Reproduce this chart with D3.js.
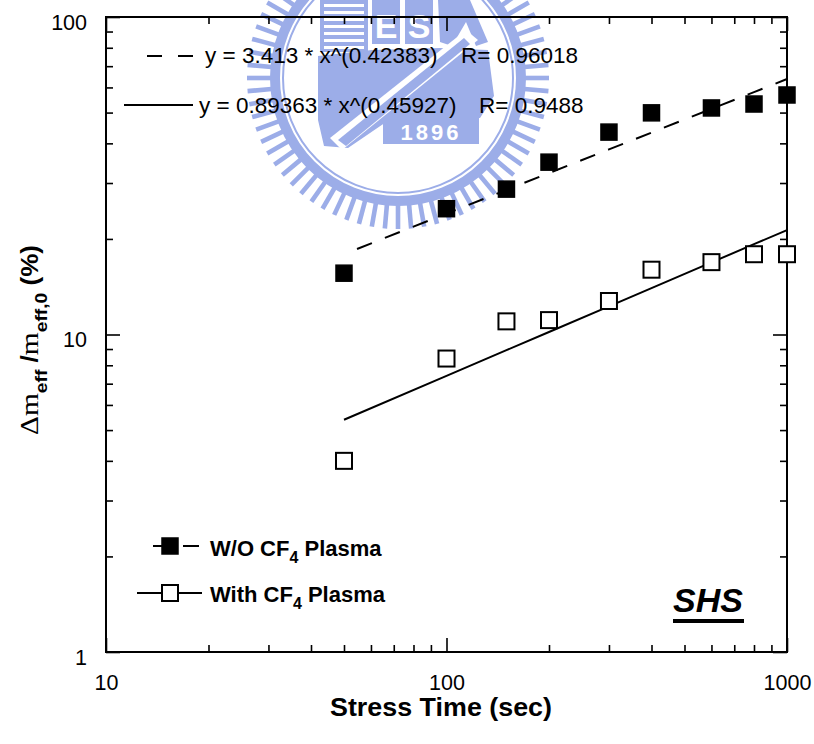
<!DOCTYPE html>
<html>
<head>
<meta charset="utf-8">
<script src="https://cdn.jsdelivr.net/npm/d3@7"></script>
<style>
  html, body { margin: 0; padding: 0; background: #fff; }
  svg { display: block; }
  text { font-family: Arial, "Liberation Sans", sans-serif; }
</style>
</head>
<body>
<svg id="chart" width="814" height="744"></svg>
<script>
// Stress time (s) at which the shift was measured
const stressTimes = [50, 100, 150, 200, 300, 400, 600, 800, 1000];
// Relative effective-mass shift (%) without CF4 plasma treatment
const shiftWithoutCF4 = [15.6, 24.9, 28.7, 34.9, 43.4, 49.9, 51.7, 53.2, 56.8];
// Relative effective-mass shift (%) with CF4 plasma treatment
const shiftWithCF4 = [4.0, 8.4, 11.0, 11.1, 12.75, 16.0, 16.9, 17.9, 17.9];
// Power-law fits y = A * x^B
const fitA = [3.413, 0.89363];
const fitB = [0.42383, 0.45927];
const fitR = ["0.96018", "0.9488"];
const xMajorTicks = [10, 100, 1000];
const yMajorTicks = [1, 10, 100];

const svg = d3.select("#chart");
const plotL = 106, plotR = 787, plotT = 17, plotB = 652;
const x = d3.scaleLog().domain([10, 1000]).range([plotL, plotR]);
const y = d3.scaleLog().domain([1, 100]).range([plotB, plotT]);

// ---- faded university emblem behind the plot ----
const wmColor = "#9cade8";
const wm = svg.append("g");
const cx = 398, cy = 78;
const teeth = d3.range(0, 360, 5);
wm.selectAll("rect.tooth").data(teeth).join("rect")
  .attr("class", "tooth")
  .attr("x", -2.3).attr("y", -151).attr("width", 4.6).attr("height", 24)
  .attr("fill", wmColor)
  .attr("transform", d => `translate(${cx},${cy}) rotate(${d})`);
wm.append("circle").attr("cx", cx).attr("cy", cy).attr("r", 121)
  .attr("fill", "none").attr("stroke", wmColor).attr("stroke-width", 14);
wm.append("circle").attr("cx", cx).attr("cy", cy).attr("r", 117)
  .attr("fill", "none").attr("stroke", "#fff").attr("stroke-width", 2);
// building block with stripes
wm.append("rect").attr("x", 320).attr("y", 0).attr("width", 48).attr("height", 52).attr("fill", wmColor);
d3.range(4, 50, 7).forEach(s => {
  wm.append("rect").attr("x", 324).attr("y", s).attr("width", 40).attr("height", 3).attr("fill", "#fff");
});
// letter boxes
[["E", 372], ["S", 405]].forEach(([ch, bx]) => {
  wm.append("rect").attr("x", bx).attr("y", 0).attr("width", 28).attr("height", 44).attr("fill", wmColor);
  wm.append("text").attr("x", bx + 14).attr("y", 38).attr("text-anchor", "middle")
    .attr("font-size", 34).attr("font-weight", "bold").attr("fill", "#fff").text(ch);
});
wm.append("path").attr("d", "M438,0 L470,0 L488,42 L476,46 L466,22 L452,46 L440,42 Z").attr("fill", wmColor);
// main body with a diagonal band
wm.append("path")
  .attr("d", "M318,56 L372,50 L440,48 L488,50 L494,96 L480,118 L392,118 L348,148 L324,146 L318,120 Z")
  .attr("fill", wmColor);
wm.append("path")
  .attr("d", "M330,138 L342,150 L478,40 L466,30 Z")
  .attr("fill", "#fff");
wm.append("path")
  .attr("d", "M338,140 L346,146 L470,44 L464,38 Z")
  .attr("fill", wmColor);
wm.append("rect").attr("x", 383).attr("y", 118).attr("width", 96).attr("height", 26).attr("fill", wmColor);
wm.append("text").attr("x", 431).attr("y", 140).attr("text-anchor", "middle")
  .attr("font-size", 22).attr("font-weight", "bold").attr("fill", "#fff")
  .attr("letter-spacing", 3).text("1896");

// ---- axes ----
const minorX = [];
[10, 100].forEach(d => { for (let k = 2; k <= 9; k++) minorX.push(d * k); });
const minorY = [];
[1, 10].forEach(d => { for (let k = 2; k <= 9; k++) minorY.push(d * k); });

function styleAxis(g) {
  g.select(".domain").remove();
  g.selectAll(".tick line").attr("stroke", "#000").attr("stroke-width", 1.6);
  g.selectAll(".tick text").attr("font-size", 21.5).attr("fill", "#000")
    .attr("font-family", 'Arial, "Liberation Sans", sans-serif');
}

svg.append("g").attr("transform", `translate(0,${plotB})`)
  .call(d3.axisBottom(x).tickValues(minorX).tickSize(-7).tickFormat(""))
  .call(styleAxis);
svg.append("g").attr("transform", `translate(0,${plotB})`)
  .call(d3.axisBottom(x).tickValues(xMajorTicks).tickSize(-14).tickPadding(23).tickFormat(d3.format("d")))
  .call(styleAxis);
svg.append("g").attr("transform", `translate(0,${plotT})`)
  .call(d3.axisTop(x).tickValues(minorX).tickSize(-7).tickFormat(""))
  .call(styleAxis);
svg.append("g").attr("transform", `translate(0,${plotT})`)
  .call(d3.axisTop(x).tickValues(xMajorTicks).tickSize(-14).tickFormat(""))
  .call(styleAxis);

svg.append("g").attr("transform", `translate(${plotL},0)`)
  .call(d3.axisLeft(y).tickValues(minorY).tickSize(-7).tickFormat(""))
  .call(styleAxis);
svg.append("g").attr("transform", `translate(${plotL},0)`)
  .call(d3.axisLeft(y).tickValues(yMajorTicks).tickSize(-14).tickPadding(19).tickFormat(d3.format("d")))
  .call(styleAxis)
  .call(g => g.selectAll(".tick text").attr("dy", "0.57em"));
svg.append("g").attr("transform", `translate(${plotR},0)`)
  .call(d3.axisRight(y).tickValues(minorY).tickSize(-7).tickFormat(""))
  .call(styleAxis);
svg.append("g").attr("transform", `translate(${plotR},0)`)
  .call(d3.axisRight(y).tickValues(yMajorTicks).tickSize(-14).tickFormat(""))
  .call(styleAxis);

svg.append("rect").attr("x", plotL).attr("y", plotT)
  .attr("width", plotR - plotL).attr("height", plotB - plotT)
  .attr("fill", "none").attr("stroke", "#000").attr("stroke-width", 2);

// ---- fit lines ----
const line = d3.line().x(d => x(d[0])).y(d => y(d[1]));
const fitPts = i => stressTimes.map(t => [t, fitA[i] * Math.pow(t, fitB[i])]);
svg.append("path").datum(fitPts(0)).attr("d", line)
  .attr("fill", "none").attr("stroke", "#000").attr("stroke-width", 2)
  .attr("stroke-dasharray", "16,14").attr("stroke-dashoffset", 16);
svg.append("path").datum(fitPts(1)).attr("d", line)
  .attr("fill", "none").attr("stroke", "#000").attr("stroke-width", 2);

// ---- data markers ----
const sz = 16;
svg.append("g").selectAll("rect").data(stressTimes.map((t, i) => [t, shiftWithoutCF4[i]]))
  .join("rect")
  .attr("x", d => x(d[0]) - sz / 2).attr("y", d => y(d[1]) - sz / 2)
  .attr("width", sz).attr("height", sz)
  .attr("fill", "#000").attr("stroke", "#000").attr("stroke-width", 1.5);
svg.append("g").selectAll("rect").data(stressTimes.map((t, i) => [t, shiftWithCF4[i]]))
  .join("rect")
  .attr("x", d => x(d[0]) - sz / 2).attr("y", d => y(d[1]) - sz / 2)
  .attr("width", sz).attr("height", sz)
  .attr("fill", "#fff").attr("stroke", "#000").attr("stroke-width", 2);

// ---- fit equations ----
svg.append("line").attr("x1", 147).attr("x2", 195).attr("y1", 56).attr("y2", 56)
  .attr("stroke", "#000").attr("stroke-width", 2).attr("stroke-dasharray", "15,16");
svg.append("text").attr("x", 205).attr("y", 63).attr("font-size", 22.5)
  .text(`y = ${fitA[0]} * x^(${fitB[0]})`);
svg.append("text").attr("x", 461).attr("y", 63).attr("font-size", 22.5)
  .text(`R= ${fitR[0]}`);
svg.append("line").attr("x1", 124).attr("x2", 193).attr("y1", 105).attr("y2", 105)
  .attr("stroke", "#000").attr("stroke-width", 2);
svg.append("text").attr("x", 199).attr("y", 113).attr("font-size", 22.5)
  .text(`y = ${fitA[1]} * x^(${fitB[1]})`);
svg.append("text").attr("x", 479).attr("y", 113).attr("font-size", 22.5)
  .text(`R= ${fitR[1]}`);

// ---- series legend ----
function legendLabel(yb, pre) {
  const t = svg.append("text").attr("x", 210).attr("y", yb)
    .attr("font-size", 22).attr("font-weight", "bold");
  t.append("tspan").text(pre + " CF");
  t.append("tspan").attr("font-size", 16).attr("dy", 7).text("4");
  t.append("tspan").attr("dy", -7).text(" Plasma");
}
svg.append("line").attr("x1", 153).attr("x2", 200).attr("y1", 546).attr("y2", 546)
  .attr("stroke", "#000").attr("stroke-width", 2).attr("stroke-dasharray", "16,14");
svg.append("rect").attr("x", 162).attr("y", 538).attr("width", sz).attr("height", sz)
  .attr("fill", "#000").attr("stroke", "#000").attr("stroke-width", 1.5);
legendLabel(556, "W/O");
svg.append("line").attr("x1", 137).attr("x2", 202).attr("y1", 593).attr("y2", 593)
  .attr("stroke", "#000").attr("stroke-width", 2);
svg.append("rect").attr("x", 162).attr("y", 585).attr("width", sz).attr("height", sz)
  .attr("fill", "#fff").attr("stroke", "#000").attr("stroke-width", 2);
legendLabel(602, "With");

// ---- SHS tag ----
svg.append("text").attr("x", 673).attr("y", 612).attr("font-size", 34)
  .attr("font-weight", "bold").attr("font-style", "italic").text("SHS");
svg.append("rect").attr("x", 673).attr("y", 619).attr("width", 71).attr("height", 4).attr("fill", "#000");

// ---- axis titles ----
svg.append("text").attr("x", 441).attr("y", 716).attr("text-anchor", "middle")
  .attr("font-size", 25).attr("font-weight", "bold")
  .attr("textLength", 222).attr("lengthAdjust", "spacingAndGlyphs")
  .text("Stress Time (sec)");

const ytG = svg.append("g").attr("transform", "translate(38,340) rotate(-90)");
const yt = ytG.append("text").attr("text-anchor", "middle");
yt.append("tspan").attr("font-family", '"Times New Roman", "Liberation Serif", serif')
  .attr("font-size", 26).text("\u0394m");
yt.append("tspan").attr("font-size", 17).attr("font-weight", "bold").attr("dy", 9).text("eff");
yt.append("tspan").attr("font-size", 23).attr("font-weight", "bold").attr("dy", -9).text(" /");
yt.append("tspan").attr("font-family", '"Times New Roman", "Liberation Serif", serif')
  .attr("font-size", 26).text("m");
yt.append("tspan").attr("font-size", 17).attr("font-weight", "bold").attr("dy", 9).text("eff,0");
yt.append("tspan").attr("font-size", 23).attr("font-weight", "bold").attr("dy", -9).text(" (%)");
// stretch the title along its length to span the full label height
const ytLen = yt.node().getComputedTextLength();
if (ytLen > 0) yt.attr("transform", `scale(${190 / ytLen},1)`);
</script>
</body>
</html>
